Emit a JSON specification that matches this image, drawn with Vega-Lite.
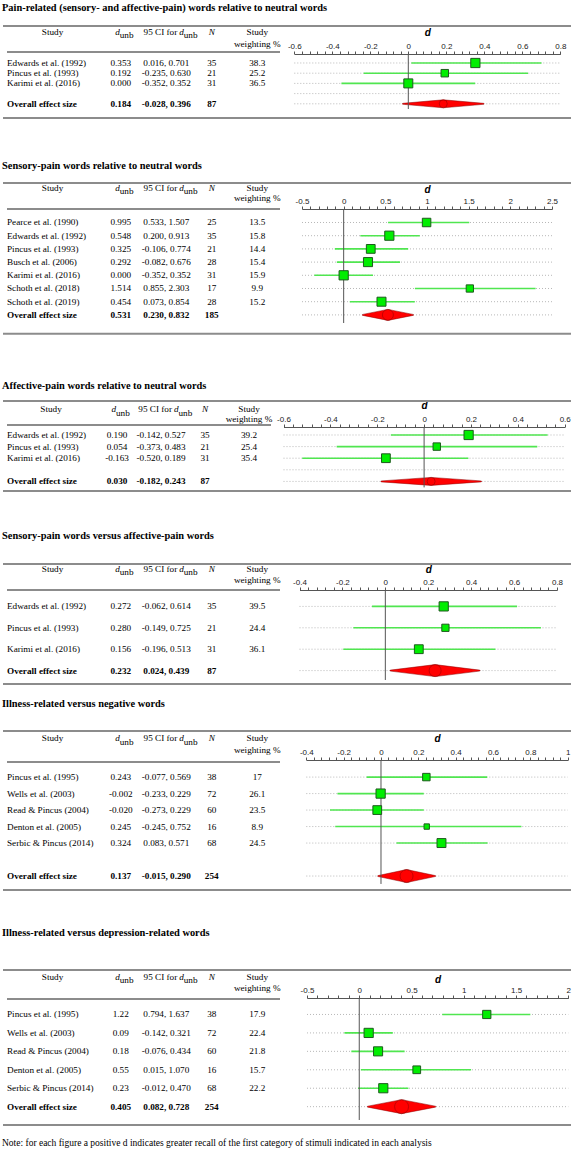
{
"$schema": "https://vega.github.io/schema/vega-lite/v6.json",
"padding": {"left": 2, "top": 2, "right": 0, "bottom": 0},
"spacing": 0,
"title": {"text": "Note: for each figure a positive d indicates greater recall of the first category of stimuli indicated in each analysis", "orient": "bottom", "anchor": "start", "fontWeight": "normal", "fontSize": 9.5, "offset": 10},
"vconcat": [
{
"title": {"text": "Pain-related (sensory- and affective-pain) words relative to neutral words", "offset": 12},
"width": 568, "height": 134.5,
"data": {"values": [
{"study":"Edwards et al. (1992)","row":1,"d":0.353,"lo":0.016,"hi":0.701,"dt":"0.353","ci":"0.016, 0.701","n":35,"w":38.3},
{"study":"Pincus et al. (1993)","row":2,"d":0.192,"lo":-0.235,"hi":0.630,"dt":"0.192","ci":"-0.235, 0.630","n":21,"w":25.2},
{"study":"Karimi et al. (2016)","row":3,"d":0.000,"lo":-0.352,"hi":0.352,"dt":"0.000","ci":"-0.352, 0.352","n":31,"w":36.5},
{"study":"Overall effect size","row":5,"d":0.184,"lo":-0.028,"hi":0.396,"dt":"0.184","ci":"-0.028, 0.396","n":87}
]},
"layer": [
{"layer": [
{"data":{"values":[{}]},"mark":{"type":"rule","style":"tl"},"encoding":{"y":{"datum":-2.6275,"type":"quantitative","scale":{"domain":[-2.6275,10.559],"reverse":true,"nice":false,"zero":false}}}},
{"data":{"values":[{}]},"mark":{"type":"rule","style":"tl"},"encoding":{"y":{"datum":6.4,"type":"quantitative"}}},
{"data":{"values":[{}]},"mark":{"type":"rule","style":"tl"},"encoding":{"x":{"datum":"study","type":"nominal","bandPosition":0,"scale":{"type":"band","domain":["study","_","dt","ci","n","w"],"range":[4,277],"paddingInner":0,"paddingOuter":0},"axis":null},"x2":{"datum":"w","bandPosition":1},"y":{"datum":-0.078,"type":"quantitative"}}},
{"data":{"values":[{}]},"mark":{"type":"text","style":"hd","text":"Study"},"encoding":{"x":{"datum":"_","type":"nominal","bandPosition":0},"y":{"datum":-2.48,"type":"quantitative"}}},
{"data":{"values":[{}]},"mark":{"type":"text","style":"hd","text":["Study","weighting %"],"lineHeight":12},"encoding":{"x":{"datum":"w","type":"nominal"},"y":{"datum":-2.48,"type":"quantitative"}}},
{"data":{"values":[{}]},"mark":{"type":"text","style":"hd","text":"N","fontStyle":"italic"},"encoding":{"x":{"datum":"n","type":"nominal"},"y":{"datum":-2.48,"type":"quantitative"}}},
{"data":{"values":[{}]},"mark":{"type":"text","style":"hd","text":"d","fontStyle":"italic","align":"right","dx":-1},"encoding":{"x":{"datum":"dt","type":"nominal"},"y":{"datum":-2.48,"type":"quantitative"}}},
{"data":{"values":[{}]},"mark":{"type":"text","style":"sub","text":"unb","dx":-1},"encoding":{"x":{"datum":"dt","type":"nominal"},"y":{"datum":-2.48,"type":"quantitative"}}},
{"data":{"values":[{}]},"mark":{"type":"text","style":"hd","text":"95 CI for","align":"right","dx":11},"encoding":{"x":{"datum":"ci","type":"nominal"},"y":{"datum":-2.48,"type":"quantitative"}}},
{"data":{"values":[{}]},"mark":{"type":"text","style":"hd","text":"d","fontStyle":"italic","align":"left","dx":13},"encoding":{"x":{"datum":"ci","type":"nominal"},"y":{"datum":-2.48,"type":"quantitative"}}},
{"data":{"values":[{}]},"mark":{"type":"text","style":"sub","text":"unb","dx":17.5},"encoding":{"x":{"datum":"ci","type":"nominal"},"y":{"datum":-2.48,"type":"quantitative"}}},
{"transform":[{"filter":"isValid(datum.w)"}],"mark":{"type":"text","align":"left"},"encoding":{"x":{"datum":"study","type":"nominal","bandPosition":0},"y":{"field":"row","type":"quantitative"},"text":{"field":"study","type":"nominal"}}},
{"transform":[{"filter":"!isValid(datum.w)"}],"mark":{"type":"text","align":"left","fontWeight":"bold"},"encoding":{"x":{"datum":"study","type":"nominal","bandPosition":0},"y":{"field":"row","type":"quantitative"},"text":{"field":"study","type":"nominal"}}},
{"transform":[{"filter":"isValid(datum.w)"},{"fold":["dt","ci","n","w"],"as":["col","val"]}],"mark":{"type":"text"},"encoding":{"x":{"field":"col","type":"nominal"},"y":{"field":"row","type":"quantitative"},"text":{"field":"val","type":"nominal"}}},
{"transform":[{"filter":"!isValid(datum.w)"},{"fold":["dt","ci","n"],"as":["col","val"]}],"mark":{"type":"text","fontWeight":"bold"},"encoding":{"x":{"field":"col","type":"nominal"},"y":{"field":"row","type":"quantitative"},"text":{"field":"val","type":"nominal"}}}
]},
{"layer": [
{"mark":{"type":"rule","style":"dot"},"encoding":{"x":{"datum":-0.6,"type":"quantitative","scale":{"domain":[-0.6,0.8],"range":[291.3,557.3],"nice":false,"zero":false},"axis":{"orient":"top","offset":-28,"title":"d","titlePadding":5,"tickCount":200,"labelOverlap":false,"labelSeparation":0,"values":[-0.6,-0.56,-0.52,-0.48,-0.44,-0.4,-0.36,-0.32,-0.28,-0.24,-0.2,-0.16,-0.12,-0.08,-0.04,0,0.04,0.08,0.12,0.16,0.2,0.24,0.28,0.32,0.36,0.4,0.44,0.48,0.52,0.56,0.6,0.64,0.68,0.72,0.76,0.8],"labelExpr":"abs(datum.value*5-round(datum.value*5))<0.01?''+datum.value:''"}},"x2":{"datum":0.8},"y":{"field":"row","type":"quantitative"}}},
{"data":{"values":[{}]},"mark":{"type":"rule","style":"dot"},"encoding":{"x":{"datum":-0.6,"type":"quantitative"},"x2":{"datum":0.8},"y":{"datum":4,"type":"quantitative"}}},
{"transform":[{"filter":"isValid(datum.w)"}],"mark":{"type":"rule","style":"ci"},"encoding":{"x":{"field":"lo","type":"quantitative"},"x2":{"field":"hi"},"y":{"field":"row","type":"quantitative"}}},
{"transform":[{"filter":"!isValid(datum.w)"},{"fold":["lo","d","hi"],"as":["k","v"]}],"mark":{"type":"trail","style":"dia"},"encoding":{"x":{"field":"v","type":"quantitative"},"y":{"field":"row","type":"quantitative"},"size":{"field":"k","type":"nominal","scale":{"type":"ordinal","domain":["lo","d","hi"],"range":[0,8,0]}}}},
{"data":{"values":[{}]},"mark":{"type":"rule","style":"zero"},"encoding":{"x":{"datum":0,"type":"quantitative"},"y":{"datum":0.118,"type":"quantitative"},"y2":{"datum":5.51}}},
{"transform":[{"filter":"isValid(datum.w)"}],"mark":{"type":"point","shape":"square","filled":true,"fill":"#00ee00","stroke":"#1e5a1e","strokeWidth":1,"opacity":1},"encoding":{"x":{"field":"d","type":"quantitative"},"y":{"field":"row","type":"quantitative"},"size":{"field":"w","type":"quantitative","scale":{"domain":[0,38.3],"range":[0,85]}}}}
],"resolve":{"scale":{"size":"independent"}}}
],
"resolve": {"scale": {"x": "independent"}, "axis": {"x": "independent"}}
},
{
"title": {"text": "Sensory-pain words relative to neutral words", "offset": 10.5},
"width": 568, "height": 197.5,
"data": {"values": [
{"study":"Pearce et al. (1990)","row":1,"d":0.995,"lo":0.533,"hi":1.507,"dt":"0.995","ci":"0.533, 1.507","n":25,"w":13.5},
{"study":"Edwards et al. (1992)","row":2,"d":0.548,"lo":0.2,"hi":0.913,"dt":"0.548","ci":"0.200, 0.913","n":35,"w":15.8},
{"study":"Pincus et al. (1993)","row":3,"d":0.325,"lo":-0.106,"hi":0.774,"dt":"0.325","ci":"-0.106, 0.774","n":21,"w":14.4},
{"study":"Busch et al. (2006)","row":4,"d":0.292,"lo":-0.082,"hi":0.676,"dt":"0.292","ci":"-0.082, 0.676","n":28,"w":15.4},
{"study":"Karimi et al. (2016)","row":5,"d":0,"lo":-0.352,"hi":0.352,"dt":"0.000","ci":"-0.352, 0.352","n":31,"w":15.9},
{"study":"Schoth et al. (2018)","row":6,"d":1.514,"lo":0.855,"hi":2.303,"dt":"1.514","ci":"0.855, 2.303","n":17,"w":9.9},
{"study":"Schoth et al. (2019)","row":7,"d":0.454,"lo":0.073,"hi":0.854,"dt":"0.454","ci":"0.073, 0.854","n":28,"w":15.2},
{"study":"Overall effect size","row":8,"d":0.531,"lo":0.23,"hi":0.832,"dt":"0.531","ci":"0.230, 0.832","n":185}
]},
"layer": [
{"layer": [
{"data":{"values":[{}]},"mark":{"type":"rule","style":"tl"},"encoding":{"y":{"datum":-1.9924,"type":"quantitative","scale":{"domain":[-1.9924,12.97],"reverse":true,"nice":false,"zero":false}}}},
{"data":{"values":[{}]},"mark":{"type":"rule","style":"tl"},"encoding":{"y":{"datum":9.42,"type":"quantitative"}}},
{"data":{"values":[{}]},"mark":{"type":"rule","style":"tl"},"encoding":{"x":{"datum":"study","type":"nominal","bandPosition":0,"scale":{"type":"band","domain":["study","_","dt","ci","n","w"],"range":[4,277],"paddingInner":0,"paddingOuter":0},"axis":null},"x2":{"datum":"w","bandPosition":1},"y":{"datum":-0.023,"type":"quantitative"}}},
{"data":{"values":[{}]},"mark":{"type":"text","style":"hd","text":"Study"},"encoding":{"x":{"datum":"_","type":"nominal","bandPosition":0},"y":{"datum":-1.94,"type":"quantitative"}}},
{"data":{"values":[{}]},"mark":{"type":"text","style":"hd","text":["Study","weighting %"],"lineHeight":10},"encoding":{"x":{"datum":"w","type":"nominal"},"y":{"datum":-1.94,"type":"quantitative"}}},
{"data":{"values":[{}]},"mark":{"type":"text","style":"hd","text":"N","fontStyle":"italic"},"encoding":{"x":{"datum":"n","type":"nominal"},"y":{"datum":-1.94,"type":"quantitative"}}},
{"data":{"values":[{}]},"mark":{"type":"text","style":"hd","text":"d","fontStyle":"italic","align":"right","dx":-1},"encoding":{"x":{"datum":"dt","type":"nominal"},"y":{"datum":-1.94,"type":"quantitative"}}},
{"data":{"values":[{}]},"mark":{"type":"text","style":"sub","text":"unb","dx":-1},"encoding":{"x":{"datum":"dt","type":"nominal"},"y":{"datum":-1.94,"type":"quantitative"}}},
{"data":{"values":[{}]},"mark":{"type":"text","style":"hd","text":"95 CI for","align":"right","dx":11},"encoding":{"x":{"datum":"ci","type":"nominal"},"y":{"datum":-1.94,"type":"quantitative"}}},
{"data":{"values":[{}]},"mark":{"type":"text","style":"hd","text":"d","fontStyle":"italic","align":"left","dx":13},"encoding":{"x":{"datum":"ci","type":"nominal"},"y":{"datum":-1.94,"type":"quantitative"}}},
{"data":{"values":[{}]},"mark":{"type":"text","style":"sub","text":"unb","dx":17.5},"encoding":{"x":{"datum":"ci","type":"nominal"},"y":{"datum":-1.94,"type":"quantitative"}}},
{"transform":[{"filter":"isValid(datum.w)"}],"mark":{"type":"text","align":"left"},"encoding":{"x":{"datum":"study","type":"nominal","bandPosition":0},"y":{"field":"row","type":"quantitative"},"text":{"field":"study","type":"nominal"}}},
{"transform":[{"filter":"!isValid(datum.w)"}],"mark":{"type":"text","align":"left","fontWeight":"bold"},"encoding":{"x":{"datum":"study","type":"nominal","bandPosition":0},"y":{"field":"row","type":"quantitative"},"text":{"field":"study","type":"nominal"}}},
{"transform":[{"filter":"isValid(datum.w)"},{"fold":["dt","ci","n","w"],"as":["col","val"]}],"mark":{"type":"text"},"encoding":{"x":{"field":"col","type":"nominal"},"y":{"field":"row","type":"quantitative"},"text":{"field":"val","type":"nominal"}}},
{"transform":[{"filter":"!isValid(datum.w)"},{"fold":["dt","ci","n"],"as":["col","val"]}],"mark":{"type":"text","fontWeight":"bold"},"encoding":{"x":{"field":"col","type":"nominal"},"y":{"field":"row","type":"quantitative"},"text":{"field":"val","type":"nominal"}}}
]},
{"layer": [
{"mark":{"type":"rule","style":"dot"},"encoding":{"x":{"datum":-0.5,"type":"quantitative","scale":{"domain":[-0.5,2.5],"range":[299,549],"nice":false,"zero":false},"axis":{"orient":"top","offset":-26,"title":"d","titlePadding":2.5,"tickCount":200,"labelOverlap":false,"labelSeparation":0,"values":[-0.5,-0.4,-0.3,-0.2,-0.1,0,0.1,0.2,0.3,0.4,0.5,0.6,0.7,0.8,0.9,1,1.1,1.2,1.3,1.4,1.5,1.6,1.7,1.8,1.9,2,2.1,2.2,2.3,2.4,2.5],"labelExpr":"abs(datum.value*2-round(datum.value*2))<0.01?''+datum.value:''"}},"x2":{"datum":2.5},"y":{"field":"row","type":"quantitative"}}},
{"transform":[{"filter":"isValid(datum.w)"}],"mark":{"type":"rule","style":"ci"},"encoding":{"x":{"field":"lo","type":"quantitative"},"x2":{"field":"hi"},"y":{"field":"row","type":"quantitative"}}},
{"transform":[{"filter":"!isValid(datum.w)"},{"fold":["lo","d","hi"],"as":["k","v"]}],"mark":{"type":"trail","style":"dia"},"encoding":{"x":{"field":"v","type":"quantitative"},"y":{"field":"row","type":"quantitative"},"size":{"field":"k","type":"nominal","scale":{"type":"ordinal","domain":["lo","d","hi"],"range":[0,11,0]}}}},
{"data":{"values":[{}]},"mark":{"type":"rule","style":"zero"},"encoding":{"x":{"datum":0,"type":"quantitative"},"y":{"datum":-0.023,"type":"quantitative"},"y2":{"datum":8.614}}},
{"transform":[{"filter":"isValid(datum.w)"}],"mark":{"type":"point","shape":"square","filled":true,"fill":"#00ee00","stroke":"#1e5a1e","strokeWidth":1,"opacity":1},"encoding":{"x":{"field":"d","type":"quantitative"},"y":{"field":"row","type":"quantitative"},"size":{"field":"w","type":"quantitative","scale":{"domain":[0,15.9],"range":[0,85]}}}}
],"resolve":{"scale":{"size":"independent"}}}
],
"resolve": {"scale": {"x": "independent"}, "axis": {"x": "independent"}}
},
{
"title": {"text": "Affective-pain words relative to neutral words", "offset": 8.5},
"width": 568, "height": 129.5,
"data": {"values": [
{"study":"Edwards et al. (1992)","row":1,"d":0.19,"lo":-0.142,"hi":0.527,"dt":"0.190","ci":"-0.142, 0.527","n":35,"w":39.2},
{"study":"Pincus et al. (1993)","row":2,"d":0.054,"lo":-0.373,"hi":0.483,"dt":"0.054","ci":"-0.373, 0.483","n":21,"w":25.4},
{"study":"Karimi et al. (2016)","row":3,"d":-0.163,"lo":-0.52,"hi":0.189,"dt":"-0.163","ci":"-0.520, 0.189","n":31,"w":35.4},
{"study":"Overall effect size","row":5,"d":0.03,"lo":-0.182,"hi":0.243,"dt":"0.030","ci":"-0.182, 0.243","n":87}
]},
"layer": [
{"layer": [
{"data":{"values":[{}]},"mark":{"type":"rule","style":"tl"},"encoding":{"y":{"datum":-1.931,"type":"quantitative","scale":{"domain":[-1.931,9.233],"reverse":true,"nice":false,"zero":false}}}},
{"data":{"values":[{}]},"mark":{"type":"rule","style":"tl"},"encoding":{"y":{"datum":5.828,"type":"quantitative"}}},
{"data":{"values":[{}]},"mark":{"type":"rule","style":"tl"},"encoding":{"x":{"datum":"study","type":"nominal","bandPosition":0,"scale":{"type":"band","domain":["study","_","dt","ci","n","w"],"range":[4,268],"paddingInner":0,"paddingOuter":0},"axis":null},"x2":{"datum":"w","bandPosition":1},"y":{"datum":0.138,"type":"quantitative"}}},
{"data":{"values":[{}]},"mark":{"type":"text","style":"hd","text":"Study"},"encoding":{"x":{"datum":"_","type":"nominal","bandPosition":0},"y":{"datum":-1.586,"type":"quantitative"}}},
{"data":{"values":[{}]},"mark":{"type":"text","style":"hd","text":["Study","weighting %"],"lineHeight":10},"encoding":{"x":{"datum":"w","type":"nominal"},"y":{"datum":-1.586,"type":"quantitative"}}},
{"data":{"values":[{}]},"mark":{"type":"text","style":"hd","text":"N","fontStyle":"italic"},"encoding":{"x":{"datum":"n","type":"nominal"},"y":{"datum":-1.586,"type":"quantitative"}}},
{"data":{"values":[{}]},"mark":{"type":"text","style":"hd","text":"d","fontStyle":"italic","align":"right","dx":-1},"encoding":{"x":{"datum":"dt","type":"nominal"},"y":{"datum":-1.586,"type":"quantitative"}}},
{"data":{"values":[{}]},"mark":{"type":"text","style":"sub","text":"unb","dx":-1},"encoding":{"x":{"datum":"dt","type":"nominal"},"y":{"datum":-1.586,"type":"quantitative"}}},
{"data":{"values":[{}]},"mark":{"type":"text","style":"hd","text":"95 CI for","align":"right","dx":11},"encoding":{"x":{"datum":"ci","type":"nominal"},"y":{"datum":-1.586,"type":"quantitative"}}},
{"data":{"values":[{}]},"mark":{"type":"text","style":"hd","text":"d","fontStyle":"italic","align":"left","dx":13},"encoding":{"x":{"datum":"ci","type":"nominal"},"y":{"datum":-1.586,"type":"quantitative"}}},
{"data":{"values":[{}]},"mark":{"type":"text","style":"sub","text":"unb","dx":17.5},"encoding":{"x":{"datum":"ci","type":"nominal"},"y":{"datum":-1.586,"type":"quantitative"}}},
{"transform":[{"filter":"isValid(datum.w)"}],"mark":{"type":"text","align":"left"},"encoding":{"x":{"datum":"study","type":"nominal","bandPosition":0},"y":{"field":"row","type":"quantitative"},"text":{"field":"study","type":"nominal"}}},
{"transform":[{"filter":"!isValid(datum.w)"}],"mark":{"type":"text","align":"left","fontWeight":"bold"},"encoding":{"x":{"datum":"study","type":"nominal","bandPosition":0},"y":{"field":"row","type":"quantitative"},"text":{"field":"study","type":"nominal"}}},
{"transform":[{"filter":"isValid(datum.w)"},{"fold":["dt","ci","n","w"],"as":["col","val"]}],"mark":{"type":"text"},"encoding":{"x":{"field":"col","type":"nominal"},"y":{"field":"row","type":"quantitative"},"text":{"field":"val","type":"nominal"}}},
{"transform":[{"filter":"!isValid(datum.w)"},{"fold":["dt","ci","n"],"as":["col","val"]}],"mark":{"type":"text","fontWeight":"bold"},"encoding":{"x":{"field":"col","type":"nominal"},"y":{"field":"row","type":"quantitative"},"text":{"field":"val","type":"nominal"}}}
]},
{"layer": [
{"mark":{"type":"rule","style":"dot"},"encoding":{"x":{"datum":-0.6,"type":"quantitative","scale":{"domain":[-0.6,0.6],"range":[280.5,561.7],"nice":false,"zero":false},"axis":{"orient":"top","offset":-26,"title":"d","titlePadding":4.5,"tickCount":200,"labelOverlap":false,"labelSeparation":0,"values":[-0.6,-0.56,-0.52,-0.48,-0.44,-0.4,-0.36,-0.32,-0.28,-0.24,-0.2,-0.16,-0.12,-0.08,-0.04,0,0.04,0.08,0.12,0.16,0.2,0.24,0.28,0.32,0.36,0.4,0.44,0.48,0.52,0.56,0.6],"labelExpr":"abs(datum.value*5-round(datum.value*5))<0.01?''+datum.value:''"}},"x2":{"datum":0.6},"y":{"field":"row","type":"quantitative"}}},
{"data":{"values":[{}]},"mark":{"type":"rule","style":"dot"},"encoding":{"x":{"datum":-0.6,"type":"quantitative"},"x2":{"datum":0.6},"y":{"datum":4,"type":"quantitative"}}},
{"transform":[{"filter":"isValid(datum.w)"}],"mark":{"type":"rule","style":"ci"},"encoding":{"x":{"field":"lo","type":"quantitative"},"x2":{"field":"hi"},"y":{"field":"row","type":"quantitative"}}},
{"transform":[{"filter":"!isValid(datum.w)"},{"fold":["lo","d","hi"],"as":["k","v"]}],"mark":{"type":"trail","style":"dia"},"encoding":{"x":{"field":"v","type":"quantitative"},"y":{"field":"row","type":"quantitative"},"size":{"field":"k","type":"nominal","scale":{"type":"ordinal","domain":["lo","d","hi"],"range":[0,8,0]}}}},
{"data":{"values":[{}]},"mark":{"type":"rule","style":"zero"},"encoding":{"x":{"datum":0,"type":"quantitative"},"y":{"datum":0.31,"type":"quantitative"},"y2":{"datum":5.517}}},
{"transform":[{"filter":"isValid(datum.w)"}],"mark":{"type":"point","shape":"square","filled":true,"fill":"#00ee00","stroke":"#1e5a1e","strokeWidth":1,"opacity":1},"encoding":{"x":{"field":"d","type":"quantitative"},"y":{"field":"row","type":"quantitative"},"size":{"field":"w","type":"quantitative","scale":{"domain":[0,39.2],"range":[0,85]}}}}
],"resolve":{"scale":{"size":"independent"}}}
],
"resolve": {"scale": {"x": "independent"}, "axis": {"x": "independent"}}
},
{
"title": {"text": "Sensory-pain words versus affective-pain words", "offset": 21.5},
"width": 568, "height": 134.5,
"data": {"values": [
{"study":"Edwards et al. (1992)","row":1,"d":0.272,"lo":-0.062,"hi":0.614,"dt":"0.272","ci":"-0.062, 0.614","n":35,"w":39.5},
{"study":"Pincus et al. (1993)","row":2,"d":0.28,"lo":-0.149,"hi":0.725,"dt":"0.280","ci":"-0.149, 0.725","n":21,"w":24.4},
{"study":"Karimi et al. (2016)","row":3,"d":0.156,"lo":-0.196,"hi":0.513,"dt":"0.156","ci":"-0.196, 0.513","n":31,"w":36.1},
{"study":"Overall effect size","row":4,"d":0.232,"lo":0.024,"hi":0.439,"dt":"0.232","ci":"0.024, 0.439","n":87}
]},
"layer": [
{"layer": [
{"data":{"values":[{}]},"mark":{"type":"rule","style":"tl"},"encoding":{"y":{"datum":-0.9813,"type":"quantitative","scale":{"domain":[-0.9813,5.304],"reverse":true,"nice":false,"zero":false}}}},
{"data":{"values":[{}]},"mark":{"type":"rule","style":"tl"},"encoding":{"y":{"datum":4.626,"type":"quantitative"}}},
{"data":{"values":[{}]},"mark":{"type":"rule","style":"tl"},"encoding":{"x":{"datum":"study","type":"nominal","bandPosition":0,"scale":{"type":"band","domain":["study","_","dt","ci","n","w"],"range":[4,277],"paddingInner":0,"paddingOuter":0},"axis":null},"x2":{"datum":"w","bandPosition":1},"y":{"datum":0.234,"type":"quantitative"}}},
{"data":{"values":[{}]},"mark":{"type":"text","style":"hd","text":"Study"},"encoding":{"x":{"datum":"_","type":"nominal","bandPosition":0},"y":{"datum":-0.935,"type":"quantitative"}}},
{"data":{"values":[{}]},"mark":{"type":"text","style":"hd","text":["Study","weighting %"],"lineHeight":11.5},"encoding":{"x":{"datum":"w","type":"nominal"},"y":{"datum":-0.935,"type":"quantitative"}}},
{"data":{"values":[{}]},"mark":{"type":"text","style":"hd","text":"N","fontStyle":"italic"},"encoding":{"x":{"datum":"n","type":"nominal"},"y":{"datum":-0.935,"type":"quantitative"}}},
{"data":{"values":[{}]},"mark":{"type":"text","style":"hd","text":"d","fontStyle":"italic","align":"right","dx":-1},"encoding":{"x":{"datum":"dt","type":"nominal"},"y":{"datum":-0.935,"type":"quantitative"}}},
{"data":{"values":[{}]},"mark":{"type":"text","style":"sub","text":"unb","dx":-1},"encoding":{"x":{"datum":"dt","type":"nominal"},"y":{"datum":-0.935,"type":"quantitative"}}},
{"data":{"values":[{}]},"mark":{"type":"text","style":"hd","text":"95 CI for","align":"right","dx":11},"encoding":{"x":{"datum":"ci","type":"nominal"},"y":{"datum":-0.935,"type":"quantitative"}}},
{"data":{"values":[{}]},"mark":{"type":"text","style":"hd","text":"d","fontStyle":"italic","align":"left","dx":13},"encoding":{"x":{"datum":"ci","type":"nominal"},"y":{"datum":-0.935,"type":"quantitative"}}},
{"data":{"values":[{}]},"mark":{"type":"text","style":"sub","text":"unb","dx":17.5},"encoding":{"x":{"datum":"ci","type":"nominal"},"y":{"datum":-0.935,"type":"quantitative"}}},
{"transform":[{"filter":"isValid(datum.w)"}],"mark":{"type":"text","align":"left"},"encoding":{"x":{"datum":"study","type":"nominal","bandPosition":0},"y":{"field":"row","type":"quantitative"},"text":{"field":"study","type":"nominal"}}},
{"transform":[{"filter":"!isValid(datum.w)"}],"mark":{"type":"text","align":"left","fontWeight":"bold"},"encoding":{"x":{"datum":"study","type":"nominal","bandPosition":0},"y":{"field":"row","type":"quantitative"},"text":{"field":"study","type":"nominal"}}},
{"transform":[{"filter":"isValid(datum.w)"},{"fold":["dt","ci","n","w"],"as":["col","val"]}],"mark":{"type":"text"},"encoding":{"x":{"field":"col","type":"nominal"},"y":{"field":"row","type":"quantitative"},"text":{"field":"val","type":"nominal"}}},
{"transform":[{"filter":"!isValid(datum.w)"},{"fold":["dt","ci","n"],"as":["col","val"]}],"mark":{"type":"text","fontWeight":"bold"},"encoding":{"x":{"field":"col","type":"nominal"},"y":{"field":"row","type":"quantitative"},"text":{"field":"val","type":"nominal"}}}
]},
{"layer": [
{"mark":{"type":"rule","style":"dot"},"encoding":{"x":{"datum":-0.4,"type":"quantitative","scale":{"domain":[-0.4,0.8],"range":[296.5,554],"nice":false,"zero":false},"axis":{"orient":"top","offset":-26,"title":"d","titlePadding":3.5,"tickCount":200,"labelOverlap":false,"labelSeparation":0,"values":[-0.4,-0.36,-0.32,-0.28,-0.24,-0.2,-0.16,-0.12,-0.08,-0.04,0,0.04,0.08,0.12,0.16,0.2,0.24,0.28,0.32,0.36,0.4,0.44,0.48,0.52,0.56,0.6,0.64,0.68,0.72,0.76,0.8],"labelExpr":"abs(datum.value*5-round(datum.value*5))<0.01?''+datum.value:''"}},"x2":{"datum":0.8},"y":{"field":"row","type":"quantitative"}}},
{"transform":[{"filter":"isValid(datum.w)"}],"mark":{"type":"rule","style":"ci"},"encoding":{"x":{"field":"lo","type":"quantitative"},"x2":{"field":"hi"},"y":{"field":"row","type":"quantitative"}}},
{"transform":[{"filter":"!isValid(datum.w)"},{"fold":["lo","d","hi"],"as":["k","v"]}],"mark":{"type":"trail","style":"dia"},"encoding":{"x":{"field":"v","type":"quantitative"},"y":{"field":"row","type":"quantitative"},"size":{"field":"k","type":"nominal","scale":{"type":"ordinal","domain":["lo","d","hi"],"range":[0,12,0]}}}},
{"data":{"values":[{}]},"mark":{"type":"rule","style":"zero"},"encoding":{"x":{"datum":0,"type":"quantitative"},"y":{"datum":0.234,"type":"quantitative"},"y2":{"datum":4.439}}},
{"transform":[{"filter":"isValid(datum.w)"}],"mark":{"type":"point","shape":"square","filled":true,"fill":"#00ee00","stroke":"#1e5a1e","strokeWidth":1,"opacity":1},"encoding":{"x":{"field":"d","type":"quantitative"},"y":{"field":"row","type":"quantitative"},"size":{"field":"w","type":"quantitative","scale":{"domain":[0,39.5],"range":[0,85]}}}}
],"resolve":{"scale":{"size":"independent"}}}
],
"resolve": {"scale": {"x": "independent"}, "axis": {"x": "independent"}}
},
{
"title": {"text": "Illness-related versus negative words", "offset": 20.5},
"width": 568, "height": 196.5,
"data": {"values": [
{"study":"Pincus et al. (1995)","row":1,"d":0.243,"lo":-0.077,"hi":0.569,"dt":"0.243","ci":"-0.077, 0.569","n":38,"w":17},
{"study":"Wells et al. (2003)","row":2,"d":-0.002,"lo":-0.233,"hi":0.229,"dt":"-0.002","ci":"-0.233, 0.229","n":72,"w":26.1},
{"study":"Read & Pincus (2004)","row":3,"d":-0.02,"lo":-0.273,"hi":0.229,"dt":"-0.020","ci":"-0.273, 0.229","n":60,"w":23.5},
{"study":"Denton et al. (2005)","row":4,"d":0.245,"lo":-0.245,"hi":0.752,"dt":"0.245","ci":"-0.245, 0.752","n":16,"w":8.9},
{"study":"Serbic & Pincus (2014)","row":5,"d":0.324,"lo":0.083,"hi":0.571,"dt":"0.324","ci":"0.083, 0.571","n":68,"w":24.5},
{"study":"Overall effect size","row":7,"d":0.137,"lo":-0.015,"hi":0.29,"dt":"0.137","ci":"-0.015, 0.290","n":254}
]},
"layer": [
{"layer": [
{"data":{"values":[{}]},"mark":{"type":"rule","style":"tl"},"encoding":{"y":{"datum":-1.795,"type":"quantitative","scale":{"domain":[-1.795,10.121],"reverse":true,"nice":false,"zero":false}}}},
{"data":{"values":[{}]},"mark":{"type":"rule","style":"tl"},"encoding":{"y":{"datum":7.847,"type":"quantitative"}}},
{"data":{"values":[{}]},"mark":{"type":"rule","style":"tl"},"encoding":{"x":{"datum":"study","type":"nominal","bandPosition":0,"scale":{"type":"band","domain":["study","_","dt","ci","n","w"],"range":[4,277],"paddingInner":0,"paddingOuter":0},"axis":null},"x2":{"datum":"w","bandPosition":1},"y":{"datum":0.085,"type":"quantitative"}}},
{"data":{"values":[{}]},"mark":{"type":"text","style":"hd","text":"Study"},"encoding":{"x":{"datum":"_","type":"nominal","bandPosition":0},"y":{"datum":-1.583,"type":"quantitative"}}},
{"data":{"values":[{}]},"mark":{"type":"text","style":"hd","text":["Study","weighting %"],"lineHeight":12},"encoding":{"x":{"datum":"w","type":"nominal"},"y":{"datum":-1.583,"type":"quantitative"}}},
{"data":{"values":[{}]},"mark":{"type":"text","style":"hd","text":"N","fontStyle":"italic"},"encoding":{"x":{"datum":"n","type":"nominal"},"y":{"datum":-1.583,"type":"quantitative"}}},
{"data":{"values":[{}]},"mark":{"type":"text","style":"hd","text":"d","fontStyle":"italic","align":"right","dx":-1},"encoding":{"x":{"datum":"dt","type":"nominal"},"y":{"datum":-1.583,"type":"quantitative"}}},
{"data":{"values":[{}]},"mark":{"type":"text","style":"sub","text":"unb","dx":-1},"encoding":{"x":{"datum":"dt","type":"nominal"},"y":{"datum":-1.583,"type":"quantitative"}}},
{"data":{"values":[{}]},"mark":{"type":"text","style":"hd","text":"95 CI for","align":"right","dx":11},"encoding":{"x":{"datum":"ci","type":"nominal"},"y":{"datum":-1.583,"type":"quantitative"}}},
{"data":{"values":[{}]},"mark":{"type":"text","style":"hd","text":"d","fontStyle":"italic","align":"left","dx":13},"encoding":{"x":{"datum":"ci","type":"nominal"},"y":{"datum":-1.583,"type":"quantitative"}}},
{"data":{"values":[{}]},"mark":{"type":"text","style":"sub","text":"unb","dx":17.5},"encoding":{"x":{"datum":"ci","type":"nominal"},"y":{"datum":-1.583,"type":"quantitative"}}},
{"transform":[{"filter":"isValid(datum.w)"}],"mark":{"type":"text","align":"left"},"encoding":{"x":{"datum":"study","type":"nominal","bandPosition":0},"y":{"field":"row","type":"quantitative"},"text":{"field":"study","type":"nominal"}}},
{"transform":[{"filter":"!isValid(datum.w)"}],"mark":{"type":"text","align":"left","fontWeight":"bold"},"encoding":{"x":{"datum":"study","type":"nominal","bandPosition":0},"y":{"field":"row","type":"quantitative"},"text":{"field":"study","type":"nominal"}}},
{"transform":[{"filter":"isValid(datum.w)"},{"fold":["dt","ci","n","w"],"as":["col","val"]}],"mark":{"type":"text"},"encoding":{"x":{"field":"col","type":"nominal"},"y":{"field":"row","type":"quantitative"},"text":{"field":"val","type":"nominal"}}},
{"transform":[{"filter":"!isValid(datum.w)"},{"fold":["dt","ci","n"],"as":["col","val"]}],"mark":{"type":"text","fontWeight":"bold"},"encoding":{"x":{"field":"col","type":"nominal"},"y":{"field":"row","type":"quantitative"},"text":{"field":"val","type":"nominal"}}}
]},
{"layer": [
{"mark":{"type":"rule","style":"dot"},"encoding":{"x":{"datum":-0.4,"type":"quantitative","scale":{"domain":[-0.4,1],"range":[303.3,564.7],"nice":false,"zero":false},"axis":{"orient":"top","offset":-29,"title":"d","titlePadding":4.5,"tickCount":200,"labelOverlap":false,"labelSeparation":0,"values":[-0.4,-0.36,-0.32,-0.28,-0.24,-0.2,-0.16,-0.12,-0.08,-0.04,0,0.04,0.08,0.12,0.16,0.2,0.24,0.28,0.32,0.36,0.4,0.44,0.48,0.52,0.56,0.6,0.64,0.68,0.72,0.76,0.8,0.84,0.88,0.92,0.96,1],"labelExpr":"abs(datum.value*5-round(datum.value*5))<0.01?''+datum.value:''"}},"x2":{"datum":1},"y":{"field":"row","type":"quantitative"}}},
{"transform":[{"filter":"isValid(datum.w)"}],"mark":{"type":"rule","style":"ci"},"encoding":{"x":{"field":"lo","type":"quantitative"},"x2":{"field":"hi"},"y":{"field":"row","type":"quantitative"}}},
{"transform":[{"filter":"!isValid(datum.w)"},{"fold":["lo","d","hi"],"as":["k","v"]}],"mark":{"type":"trail","style":"dia"},"encoding":{"x":{"field":"v","type":"quantitative"},"y":{"field":"row","type":"quantitative"},"size":{"field":"k","type":"nominal","scale":{"type":"ordinal","domain":["lo","d","hi"],"range":[0,13,0]}}}},
{"data":{"values":[{}]},"mark":{"type":"rule","style":"zero"},"encoding":{"x":{"datum":0,"type":"quantitative"},"y":{"datum":-0.036,"type":"quantitative"},"y2":{"datum":7.48}}},
{"transform":[{"filter":"isValid(datum.w)"}],"mark":{"type":"point","shape":"square","filled":true,"fill":"#00ee00","stroke":"#1e5a1e","strokeWidth":1,"opacity":1},"encoding":{"x":{"field":"d","type":"quantitative"},"y":{"field":"row","type":"quantitative"},"size":{"field":"w","type":"quantitative","scale":{"domain":[0,26.1],"range":[0,85]}}}}
],"resolve":{"scale":{"size":"independent"}}}
],
"resolve": {"scale": {"x": "independent"}, "axis": {"x": "independent"}}
},
{
"title": {"text": "Illness-related versus depression-related words", "offset": 30.5},
"width": 568, "height": 158,
"data": {"values": [
{"study":"Pincus et al. (1995)","row":1,"d":1.22,"lo":0.794,"hi":1.637,"dt":"1.22","ci":"0.794, 1.637","n":38,"w":17.9},
{"study":"Wells et al. (2003)","row":2,"d":0.09,"lo":-0.142,"hi":0.321,"dt":"0.09","ci":"-0.142, 0.321","n":72,"w":22.4},
{"study":"Read & Pincus (2004)","row":3,"d":0.18,"lo":-0.076,"hi":0.434,"dt":"0.18","ci":"-0.076, 0.434","n":60,"w":21.8},
{"study":"Denton et al. (2005)","row":4,"d":0.55,"lo":0.015,"hi":1.07,"dt":"0.55","ci":"0.015, 1.070","n":16,"w":15.7},
{"study":"Serbic & Pincus (2014)","row":5,"d":0.23,"lo":-0.012,"hi":0.47,"dt":"0.23","ci":"-0.012, 0.470","n":68,"w":22.2},
{"study":"Overall effect size","row":6,"d":0.405,"lo":0.082,"hi":0.728,"dt":"0.405","ci":"0.082, 0.728","n":254}
]},
"layer": [
{"layer": [
{"data":{"values":[{}]},"mark":{"type":"rule","style":"tl"},"encoding":{"y":{"datum":-1.4116,"type":"quantitative","scale":{"domain":[-1.4116,7.157],"reverse":true,"nice":false,"zero":false}}}},
{"data":{"values":[{}]},"mark":{"type":"rule","style":"tl"},"encoding":{"y":{"datum":6.99,"type":"quantitative"}}},
{"data":{"values":[{}]},"mark":{"type":"rule","style":"tl"},"encoding":{"x":{"datum":"study","type":"nominal","bandPosition":0,"scale":{"type":"band","domain":["study","_","dt","ci","n","w"],"range":[4,277],"paddingInner":0,"paddingOuter":0},"axis":null},"x2":{"datum":"w","bandPosition":1},"y":{"datum":0.161,"type":"quantitative"}}},
{"data":{"values":[{}]},"mark":{"type":"text","style":"hd","text":"Study"},"encoding":{"x":{"datum":"_","type":"nominal","bandPosition":0},"y":{"datum":-1.276,"type":"quantitative"}}},
{"data":{"values":[{}]},"mark":{"type":"text","style":"hd","text":["Study","weighting %"],"lineHeight":11},"encoding":{"x":{"datum":"w","type":"nominal"},"y":{"datum":-1.276,"type":"quantitative"}}},
{"data":{"values":[{}]},"mark":{"type":"text","style":"hd","text":"N","fontStyle":"italic"},"encoding":{"x":{"datum":"n","type":"nominal"},"y":{"datum":-1.276,"type":"quantitative"}}},
{"data":{"values":[{}]},"mark":{"type":"text","style":"hd","text":"d","fontStyle":"italic","align":"right","dx":-1},"encoding":{"x":{"datum":"dt","type":"nominal"},"y":{"datum":-1.276,"type":"quantitative"}}},
{"data":{"values":[{}]},"mark":{"type":"text","style":"sub","text":"unb","dx":-1},"encoding":{"x":{"datum":"dt","type":"nominal"},"y":{"datum":-1.276,"type":"quantitative"}}},
{"data":{"values":[{}]},"mark":{"type":"text","style":"hd","text":"95 CI for","align":"right","dx":11},"encoding":{"x":{"datum":"ci","type":"nominal"},"y":{"datum":-1.276,"type":"quantitative"}}},
{"data":{"values":[{}]},"mark":{"type":"text","style":"hd","text":"d","fontStyle":"italic","align":"left","dx":13},"encoding":{"x":{"datum":"ci","type":"nominal"},"y":{"datum":-1.276,"type":"quantitative"}}},
{"data":{"values":[{}]},"mark":{"type":"text","style":"sub","text":"unb","dx":17.5},"encoding":{"x":{"datum":"ci","type":"nominal"},"y":{"datum":-1.276,"type":"quantitative"}}},
{"transform":[{"filter":"isValid(datum.w)"}],"mark":{"type":"text","align":"left"},"encoding":{"x":{"datum":"study","type":"nominal","bandPosition":0},"y":{"field":"row","type":"quantitative"},"text":{"field":"study","type":"nominal"}}},
{"transform":[{"filter":"!isValid(datum.w)"}],"mark":{"type":"text","align":"left","fontWeight":"bold"},"encoding":{"x":{"datum":"study","type":"nominal","bandPosition":0},"y":{"field":"row","type":"quantitative"},"text":{"field":"study","type":"nominal"}}},
{"transform":[{"filter":"isValid(datum.w)"},{"fold":["dt","ci","n","w"],"as":["col","val"]}],"mark":{"type":"text"},"encoding":{"x":{"field":"col","type":"nominal"},"y":{"field":"row","type":"quantitative"},"text":{"field":"val","type":"nominal"}}},
{"transform":[{"filter":"!isValid(datum.w)"},{"fold":["dt","ci","n"],"as":["col","val"]}],"mark":{"type":"text","fontWeight":"bold"},"encoding":{"x":{"field":"col","type":"nominal"},"y":{"field":"row","type":"quantitative"},"text":{"field":"val","type":"nominal"}}}
]},
{"layer": [
{"mark":{"type":"rule","style":"dot"},"encoding":{"x":{"datum":-0.5,"type":"quantitative","scale":{"domain":[-0.5,2],"range":[304,565.3],"nice":false,"zero":false},"axis":{"orient":"top","offset":-28,"title":"d","titlePadding":1.5,"tickCount":200,"labelOverlap":false,"labelSeparation":0,"values":[-0.5,-0.4,-0.3,-0.2,-0.1,0,0.1,0.2,0.3,0.4,0.5,0.6,0.7,0.8,0.9,1,1.1,1.2,1.3,1.4,1.5,1.6,1.7,1.8,1.9,2],"labelExpr":"abs(datum.value*2-round(datum.value*2))<0.01?''+datum.value:''"}},"x2":{"datum":2},"y":{"field":"row","type":"quantitative"}}},
{"transform":[{"filter":"isValid(datum.w)"}],"mark":{"type":"rule","style":"ci"},"encoding":{"x":{"field":"lo","type":"quantitative"},"x2":{"field":"hi"},"y":{"field":"row","type":"quantitative"}}},
{"transform":[{"filter":"!isValid(datum.w)"},{"fold":["lo","d","hi"],"as":["k","v"]}],"mark":{"type":"trail","style":"dia"},"encoding":{"x":{"field":"v","type":"quantitative"},"y":{"field":"row","type":"quantitative"},"size":{"field":"k","type":"nominal","scale":{"type":"ordinal","domain":["lo","d","hi"],"range":[0,14,0]}}}},
{"data":{"values":[{}]},"mark":{"type":"rule","style":"zero"},"encoding":{"x":{"datum":0,"type":"quantitative"},"y":{"datum":0.107,"type":"quantitative"},"y2":{"datum":6.723}}},
{"transform":[{"filter":"isValid(datum.w)"}],"mark":{"type":"point","shape":"square","filled":true,"fill":"#00ee00","stroke":"#1e5a1e","strokeWidth":1,"opacity":1},"encoding":{"x":{"field":"d","type":"quantitative"},"y":{"field":"row","type":"quantitative"},"size":{"field":"w","type":"quantitative","scale":{"domain":[0,22.4],"range":[0,85]}}}}
],"resolve":{"scale":{"size":"independent"}}}
],
"resolve": {"scale": {"x": "independent"}, "axis": {"x": "independent"}}
}
],
"config": {
"view": {"stroke": null},
"axisY": {"disable": true},
"axisBand": {"disable": true},
"legend": {"disable": true},
"axisX": {"titleFont": "Liberation Sans", "titleFontSize": 10, "titleFontStyle": "italic", "titleFontWeight": "bold", "titleColor": "#000", "labelFont": "Liberation Sans", "labelFontSize": 8, "labelColor": "#222", "labelPadding": 1, "tickSize": 3, "tickColor": "#555", "domainColor": "#555", "labelOverlap": false, "labelFlush": false, "labelBound": false, "grid": false},
"title": {"anchor": "start", "font": "Liberation Serif", "fontSize": 10.4, "fontWeight": "bold", "color": "#000"},
"text": {"font": "Liberation Serif", "fontSize": 9.2, "color": "#000"},
"style": {
"tl": {"color": "#8c8c8c", "strokeWidth": 2},
"dot": {"color": "#b8b8b8", "strokeDash": [1, 2], "strokeWidth": 1},
"ci": {"color": "#50e650", "strokeWidth": 1.6},
"zero": {"color": "#555555", "strokeWidth": 1},
"dia": {"color": "#ff0000", "stroke": "#8b0000", "strokeWidth": 0.5},
"hd": {"baseline": "top"},
"sub": {"baseline": "top", "fontSize": 6, "align": "left", "dy": 3.5}
}
}
}
